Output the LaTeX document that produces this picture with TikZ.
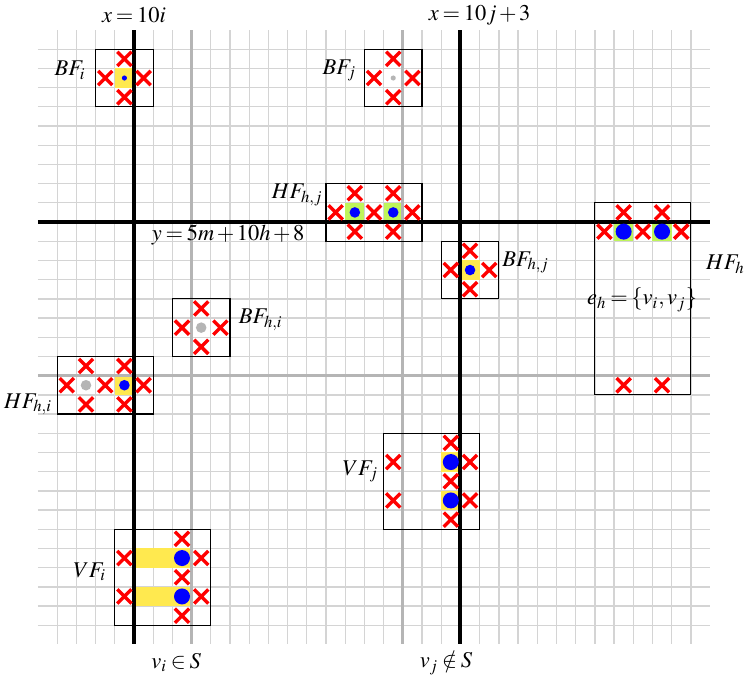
\documentclass[tikz,border=0pt]{standalone}
\usepackage{mathptmx}
\usepackage{tikz}
\definecolor{gadgetyellow}{HTML}{FFE94F}
\definecolor{gadgetgreen}{HTML}{BFF55A}
\definecolor{gridlight}{HTML}{D4D4D4}
\definecolor{gridmid}{HTML}{B5B5B5}

\begin{document}
\begin{tikzpicture}[x=0.3cm,y=-0.3cm,
  gridline/.style={draw=gridlight,line width=0.6pt},
  refline/.style={draw=gridmid,line width=1.2pt},
  axisline/.style={draw=black,line width=1.8pt},
  gadgetbox/.style={draw=black,line width=0.5pt},
  yellowcell/.style={fill=gadgetyellow},
  greencell/.style={fill=gadgetgreen},
  xline/.style={draw=red,line width=1.5pt},
  forbidden/.pic={
    \draw[xline] (-0.37,-0.37) -- (0.37,0.37) (-0.37,0.37) -- (0.37,-0.37);},
  vertexdot/.style={circle,inner sep=0pt,fill=blue},
  dotsmall/.style={vertexdot,minimum size=0.08cm},
  dotmid/.style={vertexdot,minimum size=0.165cm},
  dotlarge/.style={vertexdot,minimum size=0.25cm},
  greydot/.style={fill=gridmid},
  gadgetlabel/.style={inner sep=1pt,
    execute at begin node={\thickmuskip=3mu\medmuskip=2mu}}
]
  \useasboundingbox (-1.979,-1.5625) rectangle (36.82,33.75);

  % grid
  \foreach \gx in {1,...,34}
    \draw[gridline] (\gx,0) -- (\gx,32);
  \foreach \gy in {1,...,31}
    \draw[gridline] (0,\gy) -- (35,\gy);

  % coloured cells
  \fill[yellowcell] (4,2) rectangle (5,3);
  \fill[yellowcell] (22,12) rectangle (23,13);
  \fill[yellowcell] (4,18) rectangle (5,19);
  \fill[yellowcell] (21,22) rectangle (22,23);
  \fill[yellowcell] (21,24) rectangle (22,25);
  \fill[yellowcell] (5,27) rectangle (8,28);
  \fill[yellowcell] (5,29) rectangle (8,30);
  \fill[greencell] (16,9) rectangle (17,10);
  \fill[greencell] (18,9) rectangle (19,10);
  \fill[greencell] (30,10) rectangle (31,11);
  \fill[greencell] (32,10) rectangle (33,11);

  % reference lines
  \draw[refline] (8,0) -- (8,32);
  \draw[refline] (19,0) -- (19,32);
  \draw[refline] (0,18) -- (35,18);
  \draw[axisline] (5,0) -- (5,32);
  \draw[axisline] (22,0) -- (22,32);
  \draw[axisline] (0,10) -- (35,10);

  % gadget frames
  \draw[gadgetbox] (3,1) rectangle (6,4);
  \draw[gadgetbox] (17,1) rectangle (20,4);
  \draw[gadgetbox] (15,8) rectangle (20,11);
  \draw[gadgetbox] (21,11) rectangle (24,14);
  \draw[gadgetbox] (29,9) rectangle (34,19);
  \draw[gadgetbox] (7,14) rectangle (10,17);
  \draw[gadgetbox] (1,17) rectangle (6,20);
  \draw[gadgetbox] (18,21) rectangle (23,26);
  \draw[gadgetbox] (4,26) rectangle (9,31);

  % forbidden cells
  \foreach \mx/\my [count=\k] in {4.5/1.5,3.5/2.5,5.5/2.5,4.5/3.5,
      18.5/1.5,17.5/2.5,19.5/2.5,18.5/3.5,
      16.5/8.5,18.5/8.5,15.5/9.5,17.5/9.5,19.5/9.5,16.5/10.5,18.5/10.5,
      22.5/11.5,21.5/12.5,23.5/12.5,22.5/13.5,
      30.5/9.5,32.5/9.5,29.5/10.5,31.5/10.5,33.5/10.5,30.5/18.5,32.5/18.5,
      8.5/14.5,7.5/15.5,9.5/15.5,8.5/16.5,
      2.5/17.5,4.5/17.5,1.5/18.5,3.5/18.5,5.5/18.5,2.5/19.5,4.5/19.5,
      21.5/21.5,18.5/22.5,22.5/22.5,21.5/23.5,18.5/24.5,22.5/24.5,21.5/25.5,
      7.5/26.5,4.5/27.5,8.5/27.5,7.5/28.5,4.5/29.5,8.5/29.5,7.5/30.5}
    \pic (mark\k) at (\mx,\my) {forbidden};

  % vertices
  \node[dotsmall] (bfidot) at (4.5,2.5) {};
  \node[dotsmall,greydot] (bfjdot) at (18.5,2.5) {};
  \node[dotmid] (hfhjdotl) at (16.5,9.5) {};
  \node[dotmid] (hfhjdotr) at (18.5,9.5) {};
  \node[dotmid] (bfhjdot) at (22.5,12.5) {};
  \node[dotmid] (hfhidotr) at (4.5,18.5) {};
  \node[dotmid,greydot] (hfhidotl) at (2.5,18.5) {};
  \node[dotmid,greydot] (bfhidot) at (8.5,15.5) {};
  \node[dotlarge] (hfhdotl) at (30.5,10.5) {};
  \node[dotlarge] (hfhdotr) at (32.5,10.5) {};
  \node[dotlarge] (vfjdott) at (21.5,22.5) {};
  \node[dotlarge] (vfjdotb) at (21.5,24.5) {};
  \node[dotlarge] (vfidott) at (7.5,27.5) {};
  \node[dotlarge] (vfidotb) at (7.5,29.5) {};

  % labels
  \node[gadgetlabel] (xilabel) at (5,-0.75) {$x=10i$};
  \node[gadgetlabel] (xjlabel) at (23.0,-0.75) {$x=10j+3$};
  \node[gadgetlabel] (ylabel) at (9.9,10.7) {$y=5m+10h+8$};
  \node[gadgetlabel] (vilabel) at (7.2,32.95) {$v_i\in S$};
  \node[gadgetlabel] (vjlabel) at (21.25,32.95) {$v_j\notin S$};
  \node[gadgetlabel] (bfilabel) at (1.67,2.1) {$BF_i$};
  \node[gadgetlabel] (bfjlabel) at (15.7,2.1) {$BF_j$};
  \node[gadgetlabel] (hfhjlabel) at (13.5,8.6) {$HF_{h,j}$};
  \node[gadgetlabel] (bfhjlabel) at (25.4,12.1) {$BF_{h,j}$};
  \node[gadgetlabel] (hfhlabel) at (35.8,12.2) {$HF_h$};
  \node[gadgetlabel] (edgelabel) at (31.46,14.06) {$e_h=\{v_i,v_j\}$};
  \node[gadgetlabel] (bfhilabel) at (11.6,15.1) {$BF_{h,i}$};
  \node[gadgetlabel] (hfhilabel) at (-0.52,19.5) {$HF_{h,i}$};
  \node[gadgetlabel] (vfjlabel) at (16.8,23) {$VF_j$};
  \node[gadgetlabel] (vfilabel) at (2.7,28.2) {$VF_i$};
\end{tikzpicture}
\end{document}
